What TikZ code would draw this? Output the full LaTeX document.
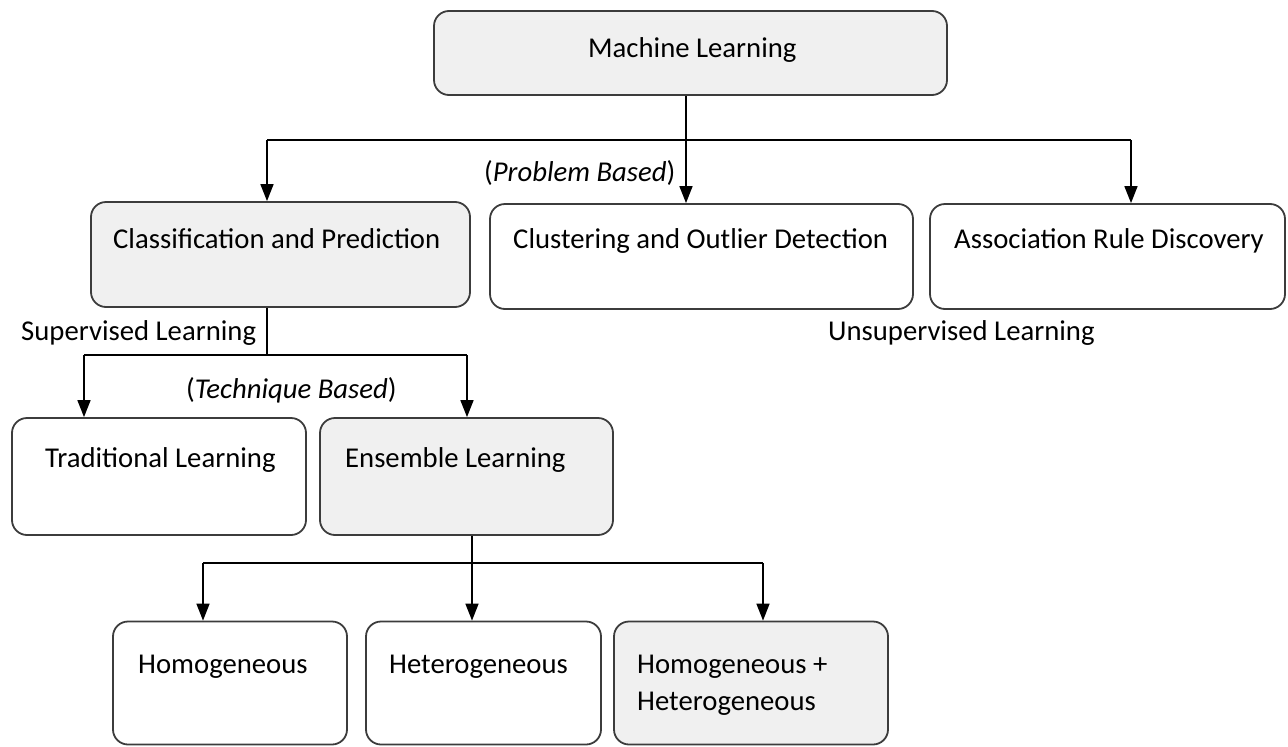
\documentclass[tikz,border=0pt]{standalone}
\usepackage{fontspec}
\setmainfont{Carlito}
\usetikzlibrary{arrows.meta}
\definecolor{boxgray}{HTML}{F0F0F0}
\definecolor{edgegray}{HTML}{3C3C3C}
\tikzset{
  box/.style={draw=edgegray, line width=1.8pt, rounded corners=15pt, inner sep=0pt},
  shaded/.style={box, fill=boxgray},
  plain/.style={box, fill=white},
  lbl/.style={anchor=base west, inner sep=0pt, font=\fontsize{28.7}{37}\selectfont},
  link/.style={line width=1.6pt, black},
  arr/.style={link, -{Triangle[width=13pt,length=17pt]}},
}
\begin{document}
\begin{tikzpicture}[x=1pt,y=-1pt]
\useasboundingbox (0,0) rectangle (1288,747);

% boxes
\node[shaded, minimum width=513pt, minimum height=84pt] (ml) at (690.5,53) {};
\node[shaded, minimum width=379pt, minimum height=105pt] (cp) at (280.5,254.5) {};
\node[plain,  minimum width=423pt, minimum height=105pt] (co) at (701.5,256.5) {};
\node[plain,  minimum width=355pt, minimum height=105pt] (ar) at (1107.5,256.5) {};
\node[plain,  minimum width=294pt, minimum height=117pt] (tl) at (159,476.5) {};
\node[shaded, minimum width=293pt, minimum height=117pt] (el) at (466.5,476.5) {};
\node[plain,  minimum width=234pt, minimum height=123pt] (ho) at (230,683) {};
\node[plain,  minimum width=235pt, minimum height=123pt] (he) at (483.5,683) {};
\node[shaded, minimum width=274pt, minimum height=123pt] (hh) at (751,683) {};

% box texts
\node[lbl] (mlt) at (588,57) {Machine Learning};
\node[lbl] (cpt) at (113,248) {Classification and Prediction};
\node[lbl] (cot) at (513,248) {Clustering and Outlier Detection};
\node[lbl] (art) at (954,248) {Association Rule Discovery};
\node[lbl] (tlt) at (45,467) {Traditional Learning};
\node[lbl] (elt) at (345,467) {Ensemble Learning};
\node[lbl] (hot) at (138,673) {Homogeneous};
\node[lbl] (het) at (389,673) {Heterogeneous};
\node[lbl] (hht) at (637,673) {Homogeneous +};
\node[lbl] (hht2) at (637,710) {Heterogeneous};

% free labels
\node[lbl] (pb) at (484,181) {(\textit{Problem Based})};
\node[lbl] (sl) at (21,340) {Supervised Learning};
\node[lbl] (ul) at (828,340) {Unsupervised Learning};
\node[lbl] (tb) at (186,398) {(\textit{Technique Based})};

% first level: problem based split
\coordinate (a0) at (686,140);
\coordinate (a1) at (267,140);
\coordinate (a3) at (1131,140);
\draw[link] (ml.south -| a0) -- (a0);
\draw[link] (a1) -- (a3);
\draw[arr] (a1) -- (a1 |- cp.north);
\draw[arr] (a0) -- (a0 |- co.north);
\draw[arr] (a3) -- (a3 |- ar.north);

% second level: technique based split
\coordinate (b0) at (267,355);
\coordinate (b1) at (84,355);
\coordinate (b2) at (467,355);
\draw[link] (cp.south -| b0) -- (b0);
\draw[link] (b1) -- (b2);
\draw[arr] (b1) -- (b1 |- tl.north);
\draw[arr] (b2) -- (b2 |- el.north);

% third level: ensemble kinds
\coordinate (c0) at (472,563);
\coordinate (c1) at (203,563);
\coordinate (c3) at (763,563);
\draw[link] (el.south -| c0) -- (c0);
\draw[link] (c1) -- (c3);
\draw[arr] (c1) -- (c1 |- ho.north);
\draw[arr] (c0) -- (c0 |- he.north);
\draw[arr] (c3) -- (c3 |- hh.north);
\end{tikzpicture}
\end{document}
